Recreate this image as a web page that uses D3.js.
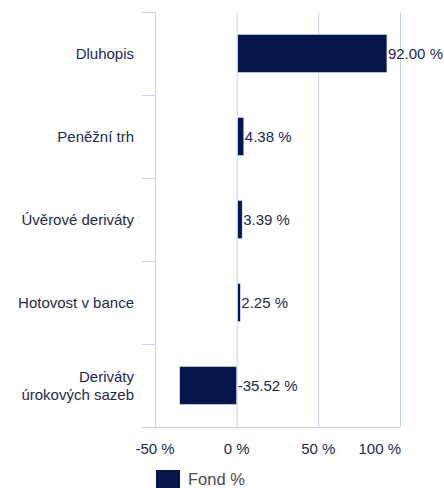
<!DOCTYPE html>
<html>
<head>
	<meta charset="utf-8">
	<title>Fond %</title>
	<script src="https://d3js.org/d3.v7.min.js"></script>
	<style>
		body { margin: 0; background: #fff; }
		text { font-family: 'Liberation Sans', Arial, sans-serif; font-size: 15px; fill: #1d2a4d; }
		.grid line { stroke: #c9d6ea; stroke-width: 1; }
	</style>
</head>
<body>
<script>
	// data
	var categories = [["Dluhopis"], ["Peněžní trh"], ["Úvěrové deriváty"], ["Hotovost v bance"], ["Deriváty", "úrokových sazeb"]];
	var values = [92.00, 4.38, 3.39, 2.25, -35.52];
	var ticks = [-50, 0, 50, 100];
	var seriesName = "Fond %";

	var W = 444, H = 488;
	var margin = {top: 12, right: 44, bottom: 61, left: 155},
			width = W - margin.left - margin.right,
			height = H - margin.top - margin.bottom;

	var barColor = "#04164d";

	var svg = d3.select("body").append("svg")
			.attr("width", W)
			.attr("height", H);

	var g = svg.append("g")
			.attr("transform", "translate(" + margin.left + "," + margin.top + ")");

	var x = d3.scaleLinear().domain([-50, 100]).range([0, width]);
	var y = d3.scaleBand().domain(d3.range(categories.length)).range([0, height]).paddingInner(0.54).paddingOuter(0.27);

	// vertical gridlines
	g.append("g").attr("class", "grid")
			.selectAll("line")
			.data(ticks)
			.enter().append("line")
			.attr("x1", function(d) { return x(d) + 0.5; })
			.attr("x2", function(d) { return x(d) + 0.5; })
			.attr("y1", 0)
			.attr("y2", height);

	// category boundary ticks on the left axis
	var step = height / categories.length;
	g.append("g").attr("class", "grid")
			.selectAll("line")
			.data(d3.range(categories.length + 1))
			.enter().append("line")
			.attr("x1", -13)
			.attr("x2", function(d) { return d === categories.length ? width : 0; })
			.attr("y1", function(d) { return Math.round(d * step) + 0.5; })
			.attr("y2", function(d) { return Math.round(d * step) + 0.5; });

	// bars
	g.append("g").selectAll("rect")
			.data(values)
			.enter().append("rect")
			.attr("x", function(d) { return x(Math.min(0, d)) + 1; })
			.attr("y", function(d, i) { return y(i); })
			.attr("width", function(d) { return Math.abs(x(d) - x(0)) - 1; })
			.attr("height", y.bandwidth())
			.style("fill", barColor)
			.style("stroke", "#e8ecf4")
			.style("stroke-width", 0.6);

	// value labels
	g.append("g").selectAll("text")
			.data(values)
			.enter().append("text")
			.attr("x", function(d) { return x(Math.max(0, d)) + 1; })
			.attr("y", function(d, i) { return y(i) + y.bandwidth() / 2; })
			.attr("dy", ".35em")
			.text(function(d) { return d.toFixed(2) + " %"; });

	// category labels
	var cat = g.append("g").selectAll("text")
			.data(categories)
			.enter().append("text")
			.attr("text-anchor", "end")
			.attr("x", -21)
			.attr("y", function(d, i) { return y(i) + y.bandwidth() / 2; });

	cat.selectAll("tspan")
			.data(function(d) { return d.map(function(t, k) { return {t: t, k: k, n: d.length}; }); })
			.enter().append("tspan")
			.attr("x", -21)
			.attr("dy", function(d) { return d.k === 0 ? (0.35 - (d.n - 1) * 0.6) + "em" : "1.2em"; })
			.text(function(d) { return d.t; });

	// x tick labels
	g.append("g").selectAll("text")
			.data(ticks)
			.enter().append("text")
			.attr("x", function(d, i) { return i === ticks.length - 1 ? x(d) + 1 : x(d); })
			.attr("y", height + 27)
			.attr("text-anchor", function(d, i) { return i === ticks.length - 1 ? "end" : "middle"; })
			.text(function(d) { return d + " %"; });

	// legend
	var legend = svg.append("g").attr("transform", "translate(" + (margin.left + 1) + "," + (H - 18) + ")");
	legend.append("rect")
			.attr("width", 24)
			.attr("height", 18)
			.style("fill", barColor);
	legend.append("text")
			.attr("x", 32)
			.attr("y", 15)
			.style("font-size", "16.5px")
			.style("fill", "#4a4a4a")
			.text(seriesName);
</script>
</body>
</html>
